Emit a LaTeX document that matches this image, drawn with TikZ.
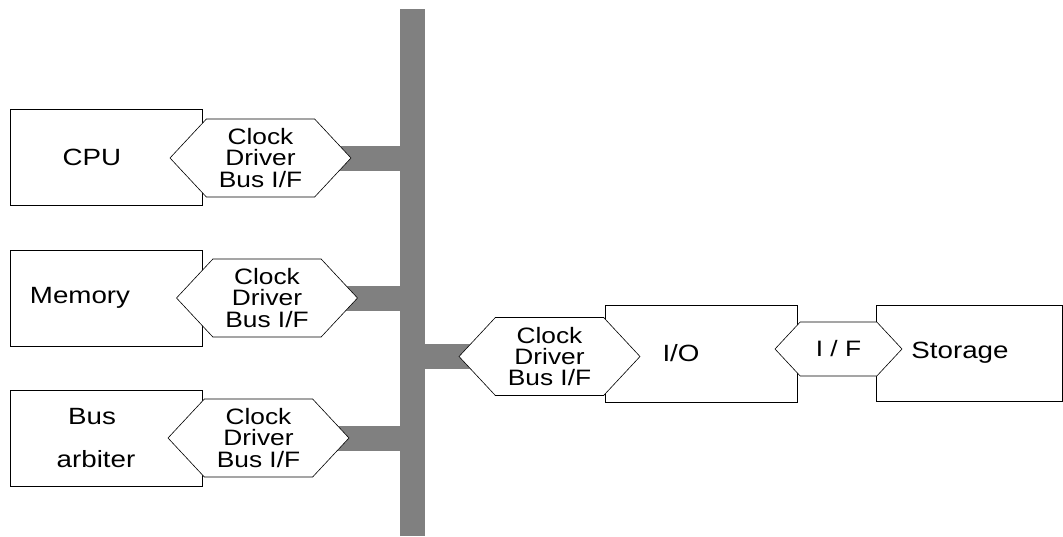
\documentclass[tikz,border=0pt]{standalone}
\usepackage{fontspec}
\setmainfont{Liberation Sans}[FakeStretch=1.18]
\usetikzlibrary{shapes.symbols, positioning, backgrounds}
\definecolor{busgray}{RGB}{128,128,128}

\begin{document}
\begin{tikzpicture}[x=1pt, y=-1pt,
    unit/.style={draw, line width=0.8pt, rectangle, minimum width=192pt, minimum height=96pt,
        inner sep=0pt, align=center, font=\fontsize{23.5}{43}\selectfont},
    busif/.style={draw, line width=0.6pt, fill=white, signal, signal to=west and east,
        signal pointer angle=94, minimum width=181pt, minimum height=78pt,
        inner sep=0pt, align=center, font=\fontsize{22.3}{21.3}\selectfont},
    buswire/.style={busgray, line width=25pt}]
    \useasboundingbox (0,0) rectangle (1063,536);

    % system bus
    \node[fill=busgray, minimum width=25pt, minimum height=527pt, inner sep=0pt] (bus) at (412.5,272.5) {};

    % units on the left
    \node[unit] (cpu) at (106,157) {CPU\hspace*{28pt}};
    \node[unit] (mem) at (106,298) {Memory\hspace*{52pt}};
    \node[unit] (arb) at (106,438) {Bus\hspace*{28pt}\\arbiter\hspace*{20pt}};

    \node[busif] (cpuif) at (260.5,158) {Clock\\Driver\\Bus I/F};
    \node[busif] (memif) at (267,298) {Clock\\Driver\\Bus I/F};
    \node[busif] (arbif) at (258.5,438) {Clock\\Driver\\Bus I/F};

    % I/O side
    \node[unit, minimum height=97pt] (io) at (701,353.5) {I/O\hspace*{40pt}};
    \node[unit, minimum width=186pt] (stor) at (969,353) {Storage\hspace*{18pt}};
    \node[busif] (ioif) at (549.5,356.5) {Clock\\Driver\\Bus I/F};
    \node[busif, minimum width=127pt, minimum height=54pt] (stif) at (838.5,349) {I / F};

    \begin{scope}[on background layer]
        \draw[buswire] (cpuif.center) -- (cpuif.center -| bus.center);
        \draw[buswire] (memif.center) -- (memif.center -| bus.center);
        \draw[buswire] (arbif.center) -- (arbif.center -| bus.center);
        \draw[buswire] (ioif.center -| bus.center) -- (ioif.center);
    \end{scope}
\end{tikzpicture}
\end{document}
